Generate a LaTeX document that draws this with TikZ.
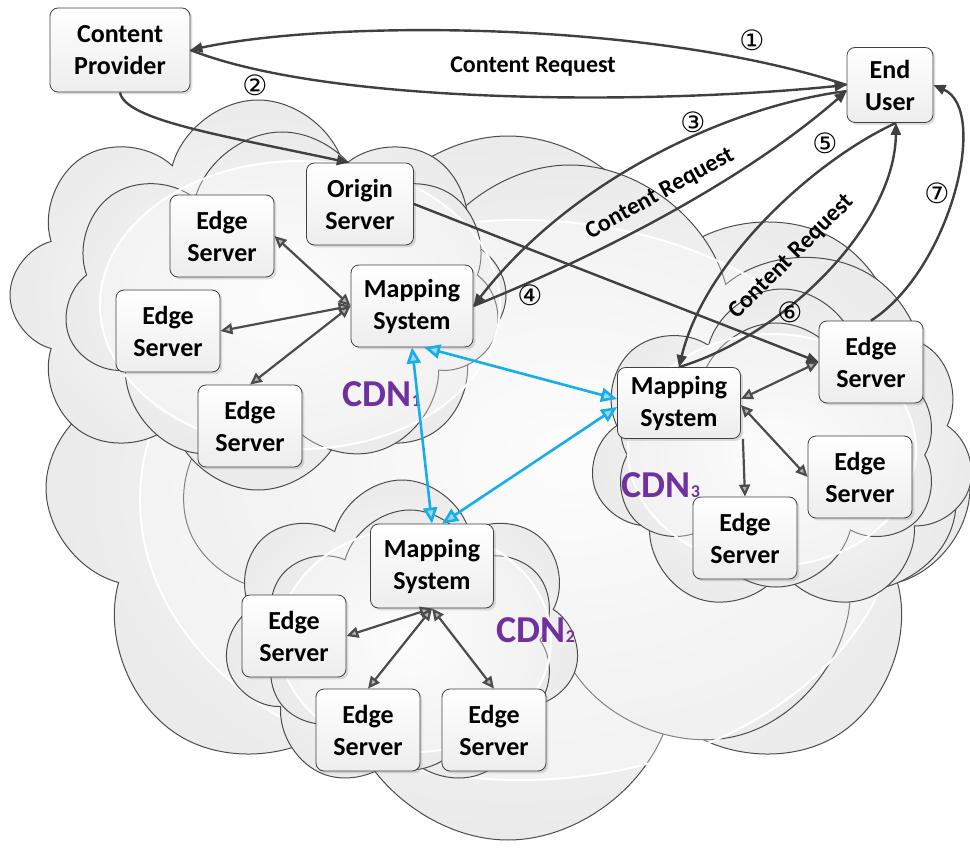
\documentclass[tikz,border=0pt]{standalone}
\usepackage{fontspec}
\setmainfont{Carlito}
\newfontfamily\circfont{DejaVu Sans}
\usetikzlibrary{arrows.meta,shapes.symbols,shadows}

\definecolor{cdnpurple}{RGB}{112,48,160}
\definecolor{linkblue}{RGB}{22,174,233}
\newcommand{\cdnsub}[1]{{\fontsize{9}{9}\selectfont #1}}

\tikzset{
  box/.style={draw=black!75, rounded corners=4pt, align=center, inner sep=1pt,
    top color=white, bottom color=gray!14,
    drop shadow={opacity=0.25, shadow xshift=1.2pt, shadow yshift=-1.2pt},
    font=\fontsize{13}{16}\selectfont\bfseries,
    minimum width=52pt, minimum height=41pt},
  cloudy/.style={cloud, cloud puffs=#1, cloud puff arc=150, cloud ignores aspect,
    draw=black!70, line width=0.5pt, inner color=gray!2, outer color=gray!16, inner sep=0pt},
  glow/.style={draw=white, line width=1pt, fill=white, fill opacity=0.3},
  lbl/.style={font=\fontsize{12}{14}\selectfont\bfseries, inner sep=1pt},
  num/.style={font=\circfont\fontsize{14}{16}\selectfont, inner sep=0pt},
  cdn/.style={font=\fontsize{19}{22}\selectfont\bfseries, text=cdnpurple, inner sep=0pt},
  darr/.style={draw=black!75, line width=1.2pt, -{Triangle[length=6pt,width=5pt]}},
  dbl/.style={draw=black!70, line width=1.1pt,
    {Triangle[length=6pt,width=5.5pt,fill=gray!60]}-{Triangle[length=6pt,width=5.5pt,fill=gray!60]}},
  sgl/.style={draw=black!70, line width=1.1pt, -{Triangle[length=6pt,width=5.5pt,fill=gray!60]}},
  blu/.style={draw=linkblue, line width=1.3pt,
    {Triangle[length=8pt,width=7pt,fill=linkblue!45]}-{Triangle[length=8pt,width=7pt,fill=linkblue!45]}}
}

\begin{document}
\begin{tikzpicture}[x=0.5pt, y=-0.5pt]
\useasboundingbox (0,0) rectangle (970,856);

% background clouds
\node[cloudy=8, minimum width=462pt, minimum height=352pt] (bga) at (508,488) {};
\node[cloudy=7, minimum width=390pt, minimum height=300pt] (bgb) at (570,465) {};
\fill[glow] (520,500) ellipse [x radius=190pt, y radius=140pt];

\node[cloudy=8, minimum width=248pt, minimum height=195pt] (c1a) at (258,295) {};
\node[cloudy=7, minimum width=218pt, minimum height=168pt] (c1b) at (282,300) {};
\fill[glow] (300,305) ellipse [x radius=100pt, y radius=72pt];

\node[cloudy=7, minimum width=192pt, minimum height=163pt] (c3a) at (782,452) {};
\node[cloudy=6, minimum width=162pt, minimum height=132pt] (c3b) at (776,455) {};
\fill[glow] (772,450) ellipse [x radius=72pt, y radius=58pt];

\node[cloudy=7, minimum width=178pt, minimum height=155pt] (c2a) at (402,635) {};
\node[cloudy=6, minimum width=148pt, minimum height=130pt] (c2b) at (410,640) {};
\fill[glow] (415,640) ellipse [x radius=68pt, y radius=56pt];

% outside
\node[box, minimum width=70pt, minimum height=42pt] (cp) at (120,50) {Content\\Provider};
\node[box, minimum width=43pt, minimum height=37.5pt] (eu) at (890,85) {End\\User};

\begin{scope}[shift={(412,306)}] % CDN1
  \node[box, minimum width=61pt] (ms1) at (0,0) {Mapping\\System};
  \node[box, minimum width=53.5pt] (orig) at (-52,-102) {Origin\\Server};
  \node[box] (es1a) at (-190,-70) {Edge\\Server};
  \node[box] (es1b) at (-244,25) {Edge\\Server};
  \node[box] (es1c) at (-162,120) {Edge\\Server};
  \node[cdn] (cdn1) at (-30,88) {CDN\cdnsub{1}};
\end{scope}

\begin{scope}[shift={(432,566)}] % CDN2
  \node[box, minimum width=61.5pt, minimum height=42pt] (ms2) at (0,0) {Mapping\\System};
  \node[box] (es2a) at (-138,70) {Edge\\Server};
  \node[box] (es2b) at (-64,164) {Edge\\Server};
  \node[box] (es2c) at (62,164) {Edge\\Server};
  \node[cdn] (cdn2) at (104,64) {CDN\cdnsub{2}};
\end{scope}

\begin{scope}[shift={(679,403)}] % CDN3
  \node[box, minimum width=61.5pt, minimum height=35.5pt] (ms3) at (0,0) {Mapping\\System};
  \node[box] (es3a) at (192,-41) {Edge\\Server};
  \node[box] (es3b) at (181,74) {Edge\\Server};
  \node[box] (es3c) at (66,135) {Edge\\Server};
  \node[cdn] (cdn3) at (-18,82) {CDN\cdnsub{3}};
\end{scope}

% inside the CDNs
\draw[dbl] (ms1.west) -- (es1a.east);
\draw[dbl] (ms1.west) -- (es1b.east);
\draw[dbl] (ms1.west) -- (es1c.north);
\draw[dbl] (ms2.south) -- (es2a.east);
\draw[dbl] (ms2.south) -- (es2b.north);
\draw[dbl] (ms2.south) -- (es2c.north);
\draw[dbl] ([yshift=2pt]ms3.east) -- (es3a.west);
\draw[dbl] ([yshift=-1pt]ms3.east) -- (es3b.west);
\draw[sgl] ([xshift=1pt]ms3.south east) -- (es3c.north);

% between the CDNs
\draw[blu] (ms1.south) -- (ms2.north);
\draw[blu] ([xshift=6pt]ms1.south) -- ([yshift=2pt]ms3.west);
\draw[blu] ([xshift=5pt]ms2.north) -- ([yshift=-2pt]ms3.west);

% requests
\draw[darr] (eu.west) .. controls (650,20) and (330,20) .. (cp.east);
\draw[darr] (cp.east) .. controls (330,105) and (650,105) .. (eu.west);
\draw[darr] (cp.south) .. controls (125,120) and (220,135) .. (orig.105);
\draw[darr] (eu.188) .. controls (735,105) and (575,175) .. (ms1.east);
\draw[darr] (ms1.east) .. controls (600,255) and (745,180) .. (eu.188);
\draw[darr] ([xshift=3pt]eu.south) .. controls (815,160) and (705,260) .. (ms3.north);
\draw[darr] (ms3.north) .. controls (785,335) and (895,225) .. ([xshift=3pt]eu.south);
\draw[darr] (es3a.north) .. controls (950,270) and (990,110) .. (eu.east);
\draw[darr] (orig.east) -- (es3a.west);

\node[lbl] (cr1) at (533,67) {Content Request};
\node[lbl, rotate=29] (cr2) at (660,194) {Content Request};
\node[lbl, rotate=45] (cr3) at (792,257) {Content Request};

\node[num] (n1) at (752,40) {①};
\node[num] (n2) at (255,85) {②};
\node[num] (n3) at (693,122) {③};
\node[num] (n4) at (530,295) {④};
\node[num] (n5) at (825,143) {⑤};
\node[num] (n6) at (790,312) {⑥};
\node[num] (n7) at (937,193) {⑦};

\end{tikzpicture}
\end{document}
